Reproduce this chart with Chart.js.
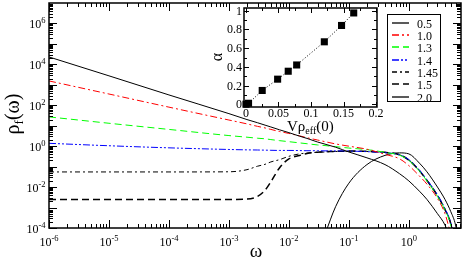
<!DOCTYPE html>
<html>
<head>
<meta charset="utf-8">
<script src="https://cdn.jsdelivr.net/npm/chart.js@4.4.1/dist/chart.umd.min.js"></script>
<style>
  html, body { margin: 0; padding: 0; background: #fff; }
  #wrap { position: relative; width: 463px; height: 260px; }
  #main { position: absolute; left: 0; top: 0; }
  #inset { position: absolute; left: 205px; top: 0; }
</style>
</head>
<body>
<div id="wrap">
  <canvas id="main" width="463" height="260"></canvas>
  <canvas id="inset" width="180" height="135"></canvas>
</div>
<script>
// frequency grid (omega) shared by all curves
const omega = [1e-6, 1e-5, 1e-4, 1e-3, 2e-3, 3e-3, 4e-3, 5e-3, 7e-3, 1e-2, 1.5e-2, 2e-2, 3e-2, 4e-2, 6e-2,
               0.1, 0.2, 0.4, 0.7, 1, 1.5, 2, 3, 4, 5, 6, 7];

// rho_f(omega), one array per curve
const rho05  = [2.3e4, 2750, 320, 39, 20, 14, 10.7, 8.7, 6.3, 4.6, 3.1, 2.4, 1.6, 1.26, 0.89,
                0.52, 0.27, 0.126, 0.045, 0.02, 6.3e-3, 2.5e-3, 5e-4, 1.4e-4, 2.5e-5, null, null];
const rho10  = [1550, 355, 81, 19, 12.3, 9.3, 7.8, 6.6, 5.2, 4.2, 3.2, 2.6, 2.0, 1.66, 1.29,
                1.0, 0.71, 0.4, 0.24, 0.112, 0.035, 0.014, 2.8e-3, 5e-4, 5e-5, null, null];
const rho13  = [27, 13.2, 6.6, 3.3, 2.75, 2.45, 2.3, 2.1, 1.86, 1.66, 1.45, 1.32, 1.15, 1.07, 0.95,
                0.81, 0.68, 0.5, 0.36, 0.2, 0.06, 0.02, 3.5e-3, 7.6e-4, 1.4e-4, 1e-5, null];
const rho14  = [1.38, 1.05, 0.83, 0.69, 0.66, 0.65, 0.64, 0.63, 0.62, 0.62, 0.61, 0.6, 0.6, 0.59, 0.59,
                0.58, 0.54, 0.48, 0.38, 0.22, 0.068, 0.023, 4.2e-3, 8.9e-4, 1.8e-4, 1.6e-5, null];
const rho145 = [0.055, 0.055, 0.055, 0.056, 0.071, 0.105, 0.13, 0.17, 0.22, 0.32, 0.42, 0.46, 0.5, 0.52, 0.55,
                0.56, 0.55, 0.49, 0.38, 0.21, 0.065, 0.022, 3.9e-3, 8.3e-4, 1.66e-4, 1.3e-5, null];
const rho15  = [2.5e-3, 2.5e-3, 2.5e-3, 2.5e-3, 2.6e-3, 3.5e-3, 7e-3, 0.018, 0.089, 0.24, 0.35, 0.44, 0.51, 0.54, 0.56,
                0.575, 0.56, 0.5, 0.38, 0.21, 0.063, 0.021, 3.8e-3, 7.9e-4, 1.6e-4, 1e-5, null];
const rho20  = [null, null, null, null, null, null, null, null, null, null, null, null, null, 5e-5, 1.1e-3,
                0.0155, 0.126, 0.355, 0.47, 0.42, 0.148, 0.056, 0.01, 2.5e-3, 6.3e-4, 1.4e-4, 1e-5];

const seriesLabels = ['0.5', '1.0', '1.3', '1.4', '1.45', '1.5', '2.0'];
const seriesData = [rho05, rho10, rho13, rho14, rho145, rho15, rho20];

// inset: alpha vs V rho_eff(0)
const vrho  = [0, 0.004, 0.025, 0.0487, 0.065, 0.078, 0.1205, 0.147, 0.1657];
const alpha = [0, 0.01, 0.147, 0.268, 0.353, 0.42, 0.668, 0.843, 0.977];

const xDecades = [-6, -5, -4, -3, -2, -1, 0];
const yLabelDecades = [-4, -2, 0, 2, 4, 6];
const insetXTicks = [0, 0.05, 0.1, 0.15, 0.2];
const insetYTicks = [0, 0.2, 0.4, 0.6, 0.8, 1];

const styles = [
  {color: '#000000', dash: [], width: 1},
  {color: '#ff0000', dash: [7, 3, 2, 3], width: 1},
  {color: '#00ff00', dash: [7, 4], width: 1},
  {color: '#0000ff', dash: [7, 2, 2, 2, 2, 2], width: 1},
  {color: '#000000', dash: [5, 3, 2, 3], width: 1},
  {color: '#000000', dash: [7, 4], width: 1.5},
  {color: '#000000', dash: [], width: 1}
];

const SERIF = '"Liberation Serif", "DejaVu Serif", serif';

function drawPow(ctx, e, x, y, align) {
  ctx.font = '12px ' + SERIF;
  const wb = ctx.measureText('10').width;
  ctx.font = '8.5px ' + SERIF;
  const sup = String(e);
  const ws = ctx.measureText(sup).width;
  let x0 = align === 'center' ? x - (wb + ws) / 2 : x - (wb + ws);
  ctx.textAlign = 'left';
  ctx.textBaseline = 'alphabetic';
  ctx.font = '12px ' + SERIF;
  ctx.fillText('10', x0, y);
  ctx.font = '8.5px ' + SERIF;
  ctx.fillText(sup, x0 + wb, y - 5.5);
}

const mainFrame = {
  id: 'mainFrame',
  afterDatasetsDraw(chart) {
    const {ctx, chartArea: a, scales: {x, y}} = chart;
    ctx.save();
    ctx.strokeStyle = '#000';
    ctx.fillStyle = '#000';
    ctx.lineWidth = 1;
    ctx.setLineDash([]);
    ctx.beginPath();
    for (let e = -6; e <= 0; e++) {
      for (let k = 1; k <= 9; k++) {
        const v = k * Math.pow(10, e);
        if (v > x.max) break;
        const px = Math.round(x.getPixelForValue(v)) + 0.5;
        const len = k === 1 ? 8 : 4;
        ctx.moveTo(px, a.bottom); ctx.lineTo(px, a.bottom - len);
        ctx.moveTo(px, a.top); ctx.lineTo(px, a.top + len);
      }
    }
    for (let e = -4; e <= 6; e++) {
      for (let k = 1; k <= 9; k++) {
        const v = k * Math.pow(10, e);
        const py = Math.round(y.getPixelForValue(v)) + 0.5;
        const len = k === 1 ? 8 : 4;
        ctx.moveTo(a.left, py); ctx.lineTo(a.left + len, py);
        ctx.moveTo(a.right, py); ctx.lineTo(a.right - len, py);
      }
    }
    ctx.stroke();
    ctx.lineWidth = 1.5;
    ctx.strokeRect(a.left, a.top, a.right - a.left, a.bottom - a.top);

    xDecades.forEach(e => drawPow(ctx, e, x.getPixelForValue(Math.pow(10, e)), 246, 'center'));
    yLabelDecades.forEach(e => drawPow(ctx, e, 45.5, y.getPixelForValue(Math.pow(10, e)) + 5, 'right'));

    // axis titles
    ctx.font = '19px ' + SERIF;
    ctx.textAlign = 'center';
    ctx.fillText('ω', 256, 257);

    ctx.save();
    ctx.translate(19, 114);
    ctx.rotate(-Math.PI / 2);
    ctx.font = '20px ' + SERIF;
    const w1 = ctx.measureText('ρ').width;
    const w3 = ctx.measureText('(ω)').width;
    ctx.font = '13px ' + SERIF;
    const w2 = ctx.measureText('f').width;
    let sx = -(w1 + w2 + w3) / 2;
    ctx.textAlign = 'left';
    ctx.font = '20px ' + SERIF;
    ctx.fillText('ρ', sx, 0);
    ctx.font = '13px ' + SERIF;
    ctx.fillText('f', sx + w1, 4);
    ctx.font = '20px ' + SERIF;
    ctx.fillText('(ω)', sx + w1 + w2, 0);
    ctx.restore();

    // legend box
    ctx.fillStyle = '#fff';
    ctx.fillRect(387, 14, 54, 88);
    ctx.lineWidth = 1;
    ctx.strokeStyle = '#000';
    ctx.strokeRect(387.5, 14.5, 53, 87);
    chart.data.datasets.forEach((ds, i) => {
      const ly = Math.round(22.7 + i * 12.3);
      ctx.beginPath();
      ctx.strokeStyle = ds.borderColor;
      ctx.lineWidth = Math.max(1.3, ds.borderWidth);
      ctx.setLineDash(ds.borderDash);
      ctx.moveTo(392, ly); ctx.lineTo(409, ly);
      ctx.stroke();
      ctx.setLineDash([]);
      ctx.fillStyle = '#000';
      ctx.font = '12px ' + SERIF;
      ctx.textAlign = 'left';
      ctx.fillText(ds.label, 417, ly + 4.5);
    });
    ctx.restore();
  }
};

new Chart(document.getElementById('main'), {
  type: 'line',
  data: {
    datasets: seriesData.map((arr, i) => ({
      label: seriesLabels[i],
      data: omega.map((w, j) => ({x: w, y: arr[j]})).filter(p => p.y !== null),
      borderColor: styles[i].color,
      borderDash: styles[i].dash,
      borderWidth: styles[i].width,
      pointRadius: 0,
      fill: false,
      cubicInterpolationMode: 'monotone'
    }))
  },
  options: {
    responsive: false,
    animation: false,
    layout: {padding: {top: 3, right: 2, left: 0, bottom: 0}},
    plugins: {legend: {display: false}, tooltip: {enabled: false}},
    scales: {
      x: {
        type: 'logarithmic', min: 1e-6, max: 7.4,
        ticks: {display: false}, grid: {display: false}, border: {display: false},
        afterFit: s => { s.height = 32; }
      },
      y: {
        type: 'logarithmic', min: 1e-4, max: 1e7,
        ticks: {display: false}, grid: {display: false}, border: {display: false},
        afterFit: s => { s.width = 49; }
      }
    }
  },
  plugins: [mainFrame]
});

const insetFrame = {
  id: 'insetFrame',
  beforeDatasetsDraw(chart) {
    const {ctx, chartArea: a, scales: {x, y}} = chart;
    ctx.save();
    ctx.strokeStyle = '#000';
    ctx.lineWidth = 1;
    ctx.beginPath();
    for (let v = 0; v <= 0.2001; v += 0.025) {
      const px = Math.round(x.getPixelForValue(v)) + 0.5;
      const len = Math.abs(v / 0.05 - Math.round(v / 0.05)) < 1e-6 ? 5 : 3;
      ctx.moveTo(px, a.bottom); ctx.lineTo(px, a.bottom - len);
      ctx.moveTo(px, a.top); ctx.lineTo(px, a.top + len);
    }
    for (let v = 0; v <= 1.0001; v += 0.1) {
      const py = Math.round(y.getPixelForValue(v)) + 0.5;
      const len = Math.abs(v / 0.2 - Math.round(v / 0.2)) < 1e-6 ? 5 : 3;
      ctx.moveTo(a.left, py); ctx.lineTo(a.left + len, py);
      ctx.moveTo(a.right, py); ctx.lineTo(a.right - len, py);
    }
    ctx.stroke();
    ctx.lineWidth = 1.5;
    ctx.strokeRect(a.left, a.top, a.right - a.left, a.bottom - a.top);
    ctx.restore();
  },
  afterDraw(chart) {
    const {ctx, scales: {x, y}} = chart;
    ctx.save();
    ctx.fillStyle = '#000';
    ctx.font = '12px ' + SERIF;
    ctx.textAlign = 'center';
    ctx.textBaseline = 'alphabetic';
    insetXTicks.forEach(v => ctx.fillText(String(v), x.getPixelForValue(v), 117));
    ctx.textAlign = 'right';
    insetYTicks.forEach(v => ctx.fillText(String(v), 37, y.getPixelForValue(v) + 4));

    // titles
    ctx.save();
    ctx.translate(17, 57);
    ctx.rotate(-Math.PI / 2);
    ctx.textAlign = 'center';
    ctx.font = '16px ' + SERIF;
    ctx.fillText('α', 0, 0);
    ctx.restore();

    ctx.textAlign = 'left';
    ctx.font = '15px ' + SERIF;
    const wa = ctx.measureText('Vρ').width;
    ctx.font = '10px ' + SERIF;
    const wb = ctx.measureText('eff').width;
    const x0 = 82;
    ctx.font = '15px ' + SERIF;
    ctx.fillText('Vρ', x0, 131);
    ctx.font = '10px ' + SERIF;
    ctx.fillText('eff', x0 + wa, 134);
    ctx.font = '15px ' + SERIF;
    ctx.fillText('(0)', x0 + wa + wb, 131);
    ctx.restore();
  }
};

new Chart(document.getElementById('inset'), {
  type: 'scatter',
  data: {
    datasets: [{
      data: vrho.map((v, i) => ({x: v, y: alpha[i]})),
      showLine: true,
      borderColor: '#000',
      borderWidth: 1,
      borderDash: [1, 2],
      pointStyle: 'rect',
      pointRadius: 5,
      pointBackgroundColor: '#000',
      pointBorderColor: '#000',
      pointBorderWidth: 0,
      clip: false
    }]
  },
  options: {
    responsive: false,
    animation: false,
    layout: {padding: {top: 8, right: 8, left: 0, bottom: 0}},
    plugins: {legend: {display: false}, tooltip: {enabled: false}},
    scales: {
      x: {
        type: 'linear', min: -0.003, max: 0.2015,
        ticks: {display: false}, grid: {display: false}, border: {display: false},
        afterFit: s => { s.height = 28; }
      },
      y: {
        type: 'linear', min: -0.03, max: 1.03,
        ticks: {display: false}, grid: {display: false}, border: {display: false},
        afterFit: s => { s.width = 39; }
      }
    }
  },
  plugins: [insetFrame]
});
</script>
</body>
</html>
